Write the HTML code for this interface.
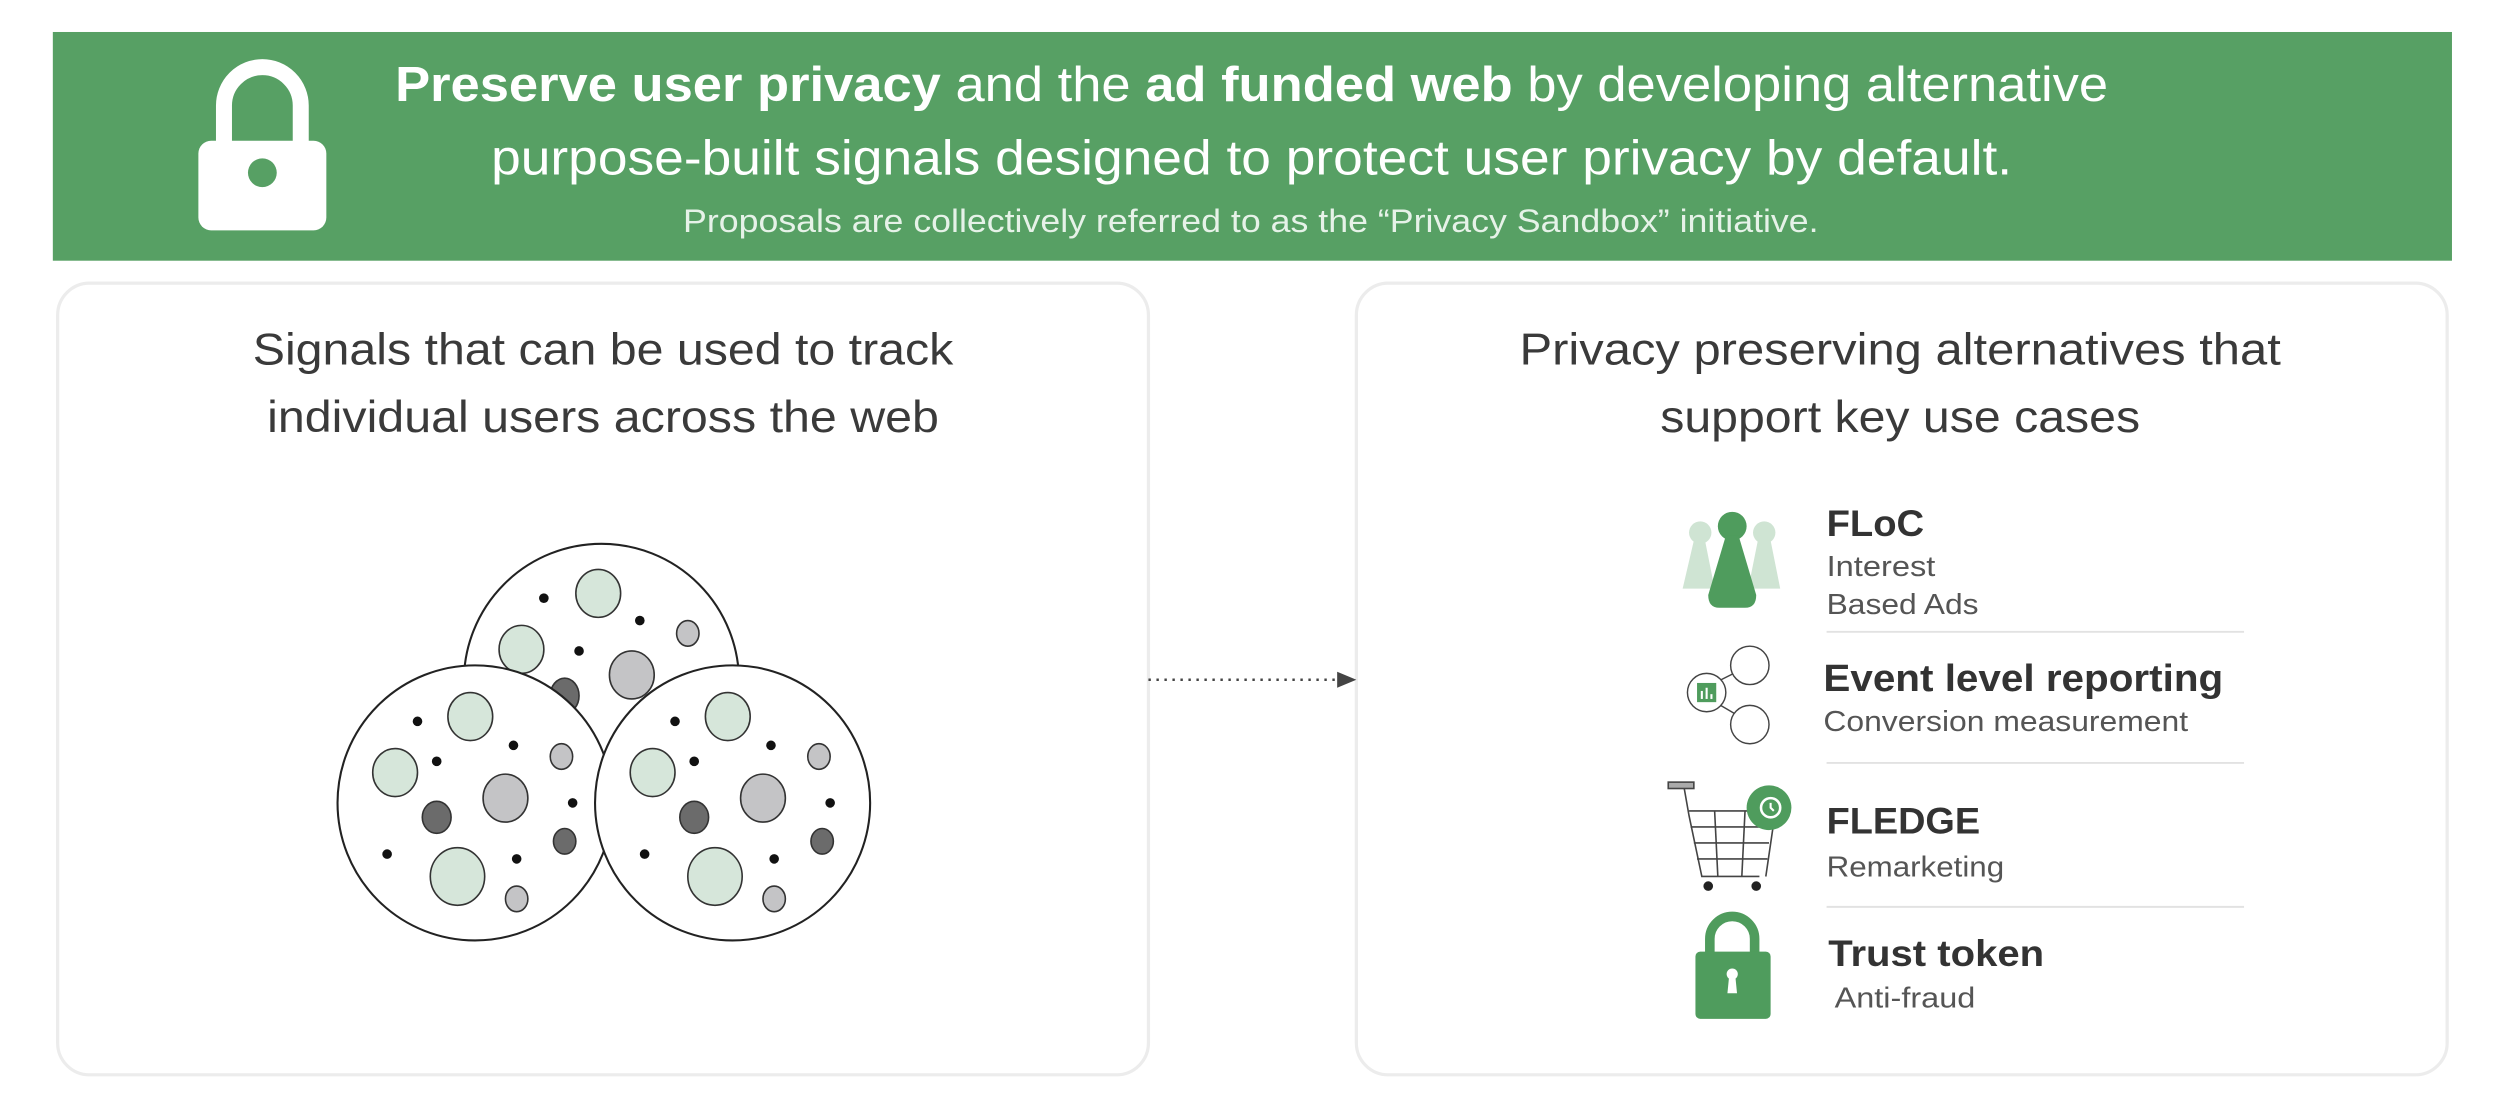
<!DOCTYPE html>
<html><head><meta charset="utf-8"><style>
html,body{margin:0;padding:0;background:#fff;}
svg{display:block;}
text{font-family:"Liberation Sans",sans-serif;}
</style></head><body>
<svg width="2508" height="1110" viewBox="0 0 1568 694" xmlns="http://www.w3.org/2000/svg">
<rect width="1568" height="694" fill="#fff"/>
<!-- banner -->
<rect x="33" y="20" width="1500" height="143" fill="#57a064"/>
<!-- big lock -->
<path d="M140 92 V66 a24 24 0 0 1 48 0 V92" fill="none" stroke="#fff" stroke-width="10"/>
<rect x="124" y="88" width="80" height="56" rx="8" fill="#fff"/>
<circle cx="164" cy="108" r="9" fill="#57a064"/>
<text x="247" y="63" textLength="1071" lengthAdjust="spacingAndGlyphs" font-size="31" fill="#fff"><tspan font-weight="bold">Preserve user privacy</tspan> and the <tspan font-weight="bold">ad funded web</tspan> by developing alternative</text>
<text x="307" y="109" textLength="951" lengthAdjust="spacingAndGlyphs" font-size="31" fill="#fff">purpose-built signals designed to protect user privacy by default.</text>
<text x="427" y="145" textLength="710" lengthAdjust="spacingAndGlyphs" font-size="20" fill="#e6f2e8">Proposals are collectively referred to as the “Privacy Sandbox” initiative.</text>
<!-- panels -->
<rect x="36" y="177" width="682" height="495" rx="20" fill="#fff" stroke="#ececec" stroke-width="2"/>
<rect x="848" y="177" width="682" height="495" rx="20" fill="#fff" stroke="#ececec" stroke-width="2"/>
<text x="158" y="228" textLength="438" lengthAdjust="spacingAndGlyphs" font-size="28" fill="#3a3a3a">Signals that can be used to track</text>
<text x="167" y="270" textLength="420" lengthAdjust="spacingAndGlyphs" font-size="28" fill="#3a3a3a">individual users across the web</text>
<text x="950" y="228" textLength="476" lengthAdjust="spacingAndGlyphs" font-size="28" fill="#3a3a3a">Privacy preserving alternatives that</text>
<text x="1038" y="270" textLength="300" lengthAdjust="spacingAndGlyphs" font-size="28" fill="#3a3a3a">support key use cases</text>
<!-- circles -->
<defs>
<g id="inner" stroke="#333" stroke-width="1">
<ellipse cx="-3" cy="-54" rx="14" ry="15" fill="#d6e6da"/>
<ellipse cx="-50" cy="-19" rx="14" ry="15" fill="#d6e6da"/>
<ellipse cx="-11" cy="46" rx="17" ry="18" fill="#d6e6da"/>
<ellipse cx="19" cy="-3" rx="14" ry="15" fill="#c4c4c6"/>
<ellipse cx="-24" cy="9" rx="9" ry="10" fill="#6b6b6b"/>
<ellipse cx="56" cy="24" rx="7" ry="8" fill="#6b6b6b"/>
<ellipse cx="54" cy="-29" rx="7" ry="8" fill="#c4c4c6"/>
<ellipse cx="26" cy="60" rx="7" ry="8" fill="#c4c4c6"/>
<g fill="#111" stroke="none">
<circle cx="-36" cy="-51" r="3"/><circle cx="24" cy="-36" r="3"/><circle cx="-24" cy="-26" r="3"/>
<circle cx="61" cy="0" r="3"/><circle cx="-55" cy="32" r="3"/><circle cx="26" cy="35" r="3"/>
</g>
</g>
</defs>
<g>
<circle cx="376" cy="426" r="86" fill="#fff" stroke="#222" stroke-width="1.3"/>
<ellipse cx="374" cy="371" rx="14" ry="15" fill="#d6e6da" stroke="#333"/>
<ellipse cx="326" cy="406" rx="14" ry="15" fill="#d6e6da" stroke="#333"/>
<ellipse cx="395" cy="422" rx="14" ry="15" fill="#c4c4c6" stroke="#333"/>
<ellipse cx="430" cy="396" rx="7" ry="8" fill="#c4c4c6" stroke="#333"/>
<ellipse cx="353" cy="435" rx="9" ry="11" fill="#6b6b6b" stroke="#333"/>
<circle cx="340" cy="374" r="3" fill="#111"/><circle cx="400" cy="388" r="3" fill="#111"/><circle cx="362" cy="407" r="3" fill="#111"/>
</g>
<circle cx="297" cy="502" r="86" fill="#fff" stroke="#222" stroke-width="1.3"/>
<use href="#inner" x="297" y="502"/>
<circle cx="458" cy="502" r="86" fill="#fff" stroke="#222" stroke-width="1.3"/>
<use href="#inner" x="458" y="502"/>
<!-- arrow -->
<line x1="718" y1="425" x2="838" y2="425" stroke="#444" stroke-width="1.6" stroke-dasharray="1.5 3.5"/>
<polygon points="836,420 848,425 836,430" fill="#444"/>
<!-- separators -->
<g stroke="#e2e2e2" stroke-width="1.2">
<line x1="1142" y1="395" x2="1403" y2="395"/>
<line x1="1142" y1="477" x2="1403" y2="477"/>
<line x1="1142" y1="567" x2="1403" y2="567"/>
</g>
<!-- FLoC icon -->
<g fill="#cfe4d3">
<circle cx="1063" cy="333" r="7"/><path d="M1059 338 L1052 368 h20 L1066 338z"/>
<circle cx="1103" cy="333" r="7"/><path d="M1099 338 L1093 368 h20 L1107 338z"/>
</g>
<circle cx="1083" cy="329" r="9" fill="#4f9c5d"/>
<path d="M1079 335 L1068 372 Q1068 380 1075 380 h16 Q1098 380 1098 372 L1087 335z" fill="#4f9c5d"/>
<text x="1142" y="335" textLength="61" lengthAdjust="spacingAndGlyphs" font-size="23" font-weight="bold" fill="#333">FLoC</text>
<text x="1142" y="360" textLength="68" lengthAdjust="spacingAndGlyphs" font-size="18" fill="#555">Interest</text>
<text x="1142" y="384" textLength="95" lengthAdjust="spacingAndGlyphs" font-size="18" fill="#555">Based Ads</text>
<!-- Event icon -->
<g fill="#fff" stroke="#444" stroke-width="0.9">
<line x1="1074" y1="426" x2="1086" y2="420"/><line x1="1074" y1="440" x2="1086" y2="447"/>
<circle cx="1067" cy="433" r="12"/><circle cx="1094" cy="416" r="12"/><circle cx="1094" cy="453" r="12"/>
</g>
<rect x="1061" y="427" width="12" height="12" fill="#4f9c5d"/>
<g stroke="#fff" stroke-width="1.3"><line x1="1064" y1="432" x2="1064" y2="437"/><line x1="1067" y1="430" x2="1067" y2="437"/><line x1="1070" y1="434" x2="1070" y2="437"/></g>
<text x="1140" y="432" textLength="250" lengthAdjust="spacingAndGlyphs" font-size="24" font-weight="bold" fill="#333">Event level reporting</text>
<text x="1140" y="457" textLength="228" lengthAdjust="spacingAndGlyphs" font-size="18" fill="#555">Conversion measurement</text>
<!-- cart -->
<g fill="none" stroke="#444" stroke-width="1">
<rect x="1043" y="489" width="16" height="4" fill="#aaa"/>
<path d="M1053 493 L1056 510 L1064 548 h36"/>
<path d="M1056 507 h54 L1104 548"/>
<line x1="1057" y1="517" x2="1108" y2="517"/><line x1="1059" y1="527" x2="1106" y2="527"/><line x1="1061" y1="537" x2="1105" y2="537"/>
<line x1="1072" y1="507" x2="1074" y2="548"/><line x1="1091" y1="507" x2="1089" y2="548"/>
</g>
<circle cx="1068" cy="554" r="3" fill="#222"/><circle cx="1098" cy="554" r="3" fill="#222"/>
<circle cx="1106" cy="505" r="14" fill="#4f9c5d"/>
<circle cx="1107" cy="505" r="6" fill="none" stroke="#fff" stroke-width="1.6"/>
<path d="M1107 502 v3 l2 2" stroke="#fff" stroke-width="1.3" fill="none"/>
<text x="1142" y="521" textLength="96" lengthAdjust="spacingAndGlyphs" font-size="23" font-weight="bold" fill="#333">FLEDGE</text>
<text x="1142" y="548" textLength="111" lengthAdjust="spacingAndGlyphs" font-size="18" fill="#555">Remarketing</text>
<!-- trust lock -->
<path d="M1069 597 v-10 a14 14 0 0 1 28 0 v10" fill="none" stroke="#4f9c5d" stroke-width="6"/>
<rect x="1060" y="595" width="47" height="42" rx="3" fill="#4f9c5d"/>
<circle cx="1083" cy="609" r="3.5" fill="#fff"/><path d="M1081 611 L1080 621 h6 L1085 611z" fill="#fff"/>
<text x="1143" y="604" textLength="135" lengthAdjust="spacingAndGlyphs" font-size="23" font-weight="bold" fill="#333">Trust token</text>
<text x="1147" y="630" textLength="88" lengthAdjust="spacingAndGlyphs" font-size="18" fill="#555">Anti-fraud</text>
</svg>
</body></html>
